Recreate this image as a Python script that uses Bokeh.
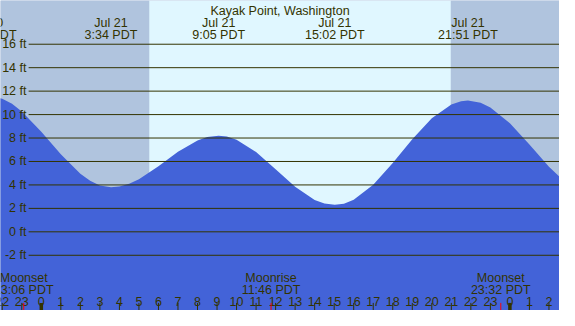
from bokeh.plotting import figure
from bokeh.models import Range1d, ColumnDataSource
from bokeh.core.properties import value
from bokeh.embed import file_html
from bokeh.resources import INLINE

# ---- data (hours from midnight Jul 21, PDT) ----
tide_hours = [-2.8, -2, -1.5, -1, 0, 1, 2, 2.5, 3, 3.57, 4, 4.5, 5, 6, 7, 8, 8.5, 9.08, 9.5,
              10, 11, 12, 13, 14, 14.5, 15.03, 15.5, 16, 17, 18, 19, 20, 21, 21.5, 21.85,
              22.5, 23, 24, 25, 26, 27]
tide_ft = [11.6, 11.36, 10.92, 10.27, 8.54, 6.61, 4.95, 4.35, 3.96, 3.8, 3.87, 4.10, 4.49, 5.60,
           6.83, 7.80, 8.08, 8.2, 8.13, 7.86, 6.81, 5.34, 3.84, 2.72, 2.42, 2.3, 2.40, 2.74,
           4.01, 5.86, 7.89, 9.68, 10.87, 11.14, 11.2, 11.01, 10.61, 9.26, 7.44, 5.55, 3.99]

ext_hours = [-2.8, 3.567, 9.083, 15.033, 21.85]
ext_date = ["Jul 20", "Jul 21", "Jul 21", "Jul 21", "Jul 21"]
ext_time = ["21:12 PDT", "3:34 PDT", "9:05 PDT", "15:02 PDT", "21:51 PDT"]

moon_hours = [-0.9, 11.767, 23.533]
moon_event = ["Moonset", "Moonrise", "Moonset"]
moon_time = ["23:06 PDT", "11:46 PDT", "23:32 PDT"]

sunrise_h = 5.53
sunset_h = 20.97

hour_ticks = list(range(-2, 27))
hour_labels = [str(h % 24) for h in hour_ticks]

ft_ticks = [-2, 0, 2, 4, 6, 8, 10, 12, 14, 16]
ft_labels = [f"{v} ft" for v in ft_ticks]

title = "Kayak Point, Washington"

# ---- figure ----
X0, X1 = -2.09, 26.54
Y0, Y1 = -6.71, 19.73
W, H = 559, 310

p = figure(width=W, height=H, x_range=Range1d(X0, X1), y_range=Range1d(Y0, Y1),
           output_backend="svg", toolbar_location=None, min_border=0,
           x_axis_type=None, y_axis_type=None)
p.grid.visible = False
p.outline_line_color = None
p.background_fill_color = "#B0C4DE"
p.border_fill_color = "#B0C4DE"

NIGHT = "#B0C4DE"
DAY = "#E0F7FF"
WATER = "#4363D8"
INK = "#333300"
FONT = value("Liberation Sans")
FS = "12.5px"

# day / night
p.quad(left=[X0, sunset_h], right=[sunrise_h, X1], bottom=Y0, top=Y1,
       fill_color=NIGHT, line_color=None)
p.quad(left=[sunrise_h], right=[sunset_h], bottom=Y0, top=Y1,
       fill_color=DAY, line_color=None)

# tide
p.varea(x=tide_hours, y1=[Y0] * len(tide_hours), y2=tide_ft, fill_color=WATER)

# grid lines
p.segment(x0=[-0.65] * len(ft_ticks), y0=ft_ticks, x1=[X1] * len(ft_ticks), y1=ft_ticks,
          line_color=INK, line_width=1)

# y labels
p.text(x=[-0.76] * len(ft_ticks), y=ft_ticks, text=ft_labels, text_align="right",
       text_baseline="middle", text_font=FONT, text_font_size=FS, text_color=INK)

# title
p.text(x=[(X0 + X1) / 2], y=[18.84], text=[title], text_align="center",
       text_baseline="alphabetic", text_font=FONT, text_font_size=FS, text_color=INK)

# extremes labels
p.text(x=ext_hours, y=[17.78] * len(ext_hours), text=ext_date, text_align="center",
       text_baseline="alphabetic", text_font=FONT, text_font_size=FS, text_color=INK)
p.text(x=ext_hours, y=[16.81] * len(ext_hours), text=ext_time, text_align="center",
       text_baseline="alphabetic", text_font=FONT, text_font_size=FS, text_color=INK)

# moon labels
p.text(x=moon_hours, y=[-3.97] * len(moon_hours), text=moon_event, text_align="center",
       text_baseline="alphabetic", text_font=FONT, text_font_size=FS, text_color=INK)
p.text(x=moon_hours, y=[-4.93] * len(moon_hours), text=moon_time, text_align="center",
       text_baseline="alphabetic", text_font=FONT, text_font_size=FS, text_color=INK)

# hour labels
p.text(x=hour_ticks, y=[-5.92] * len(hour_ticks), text=hour_labels, text_align="center",
       text_baseline="alphabetic", text_font=FONT, text_font_size=FS, text_color=INK)

# hour ticks
normal = [h for h in hour_ticks if h % 24 != 0]
midn = [h for h in hour_ticks if h % 24 == 0]
p.segment(x0=normal, y0=[-6.06] * len(normal), x1=normal, y1=[Y0] * len(normal),
          line_color=INK, line_width=1)
p.segment(x0=midn, y0=[-6.06] * len(midn), x1=midn, y1=[Y0] * len(midn),
          line_color=INK, line_width=3.5)
p.segment(x0=moon_hours, y0=[-6.06] * len(moon_hours), x1=moon_hours,
          y1=[Y0] * len(moon_hours), line_color="red", line_width=1)

open("out.html", "w").write(file_html(p, INLINE))
